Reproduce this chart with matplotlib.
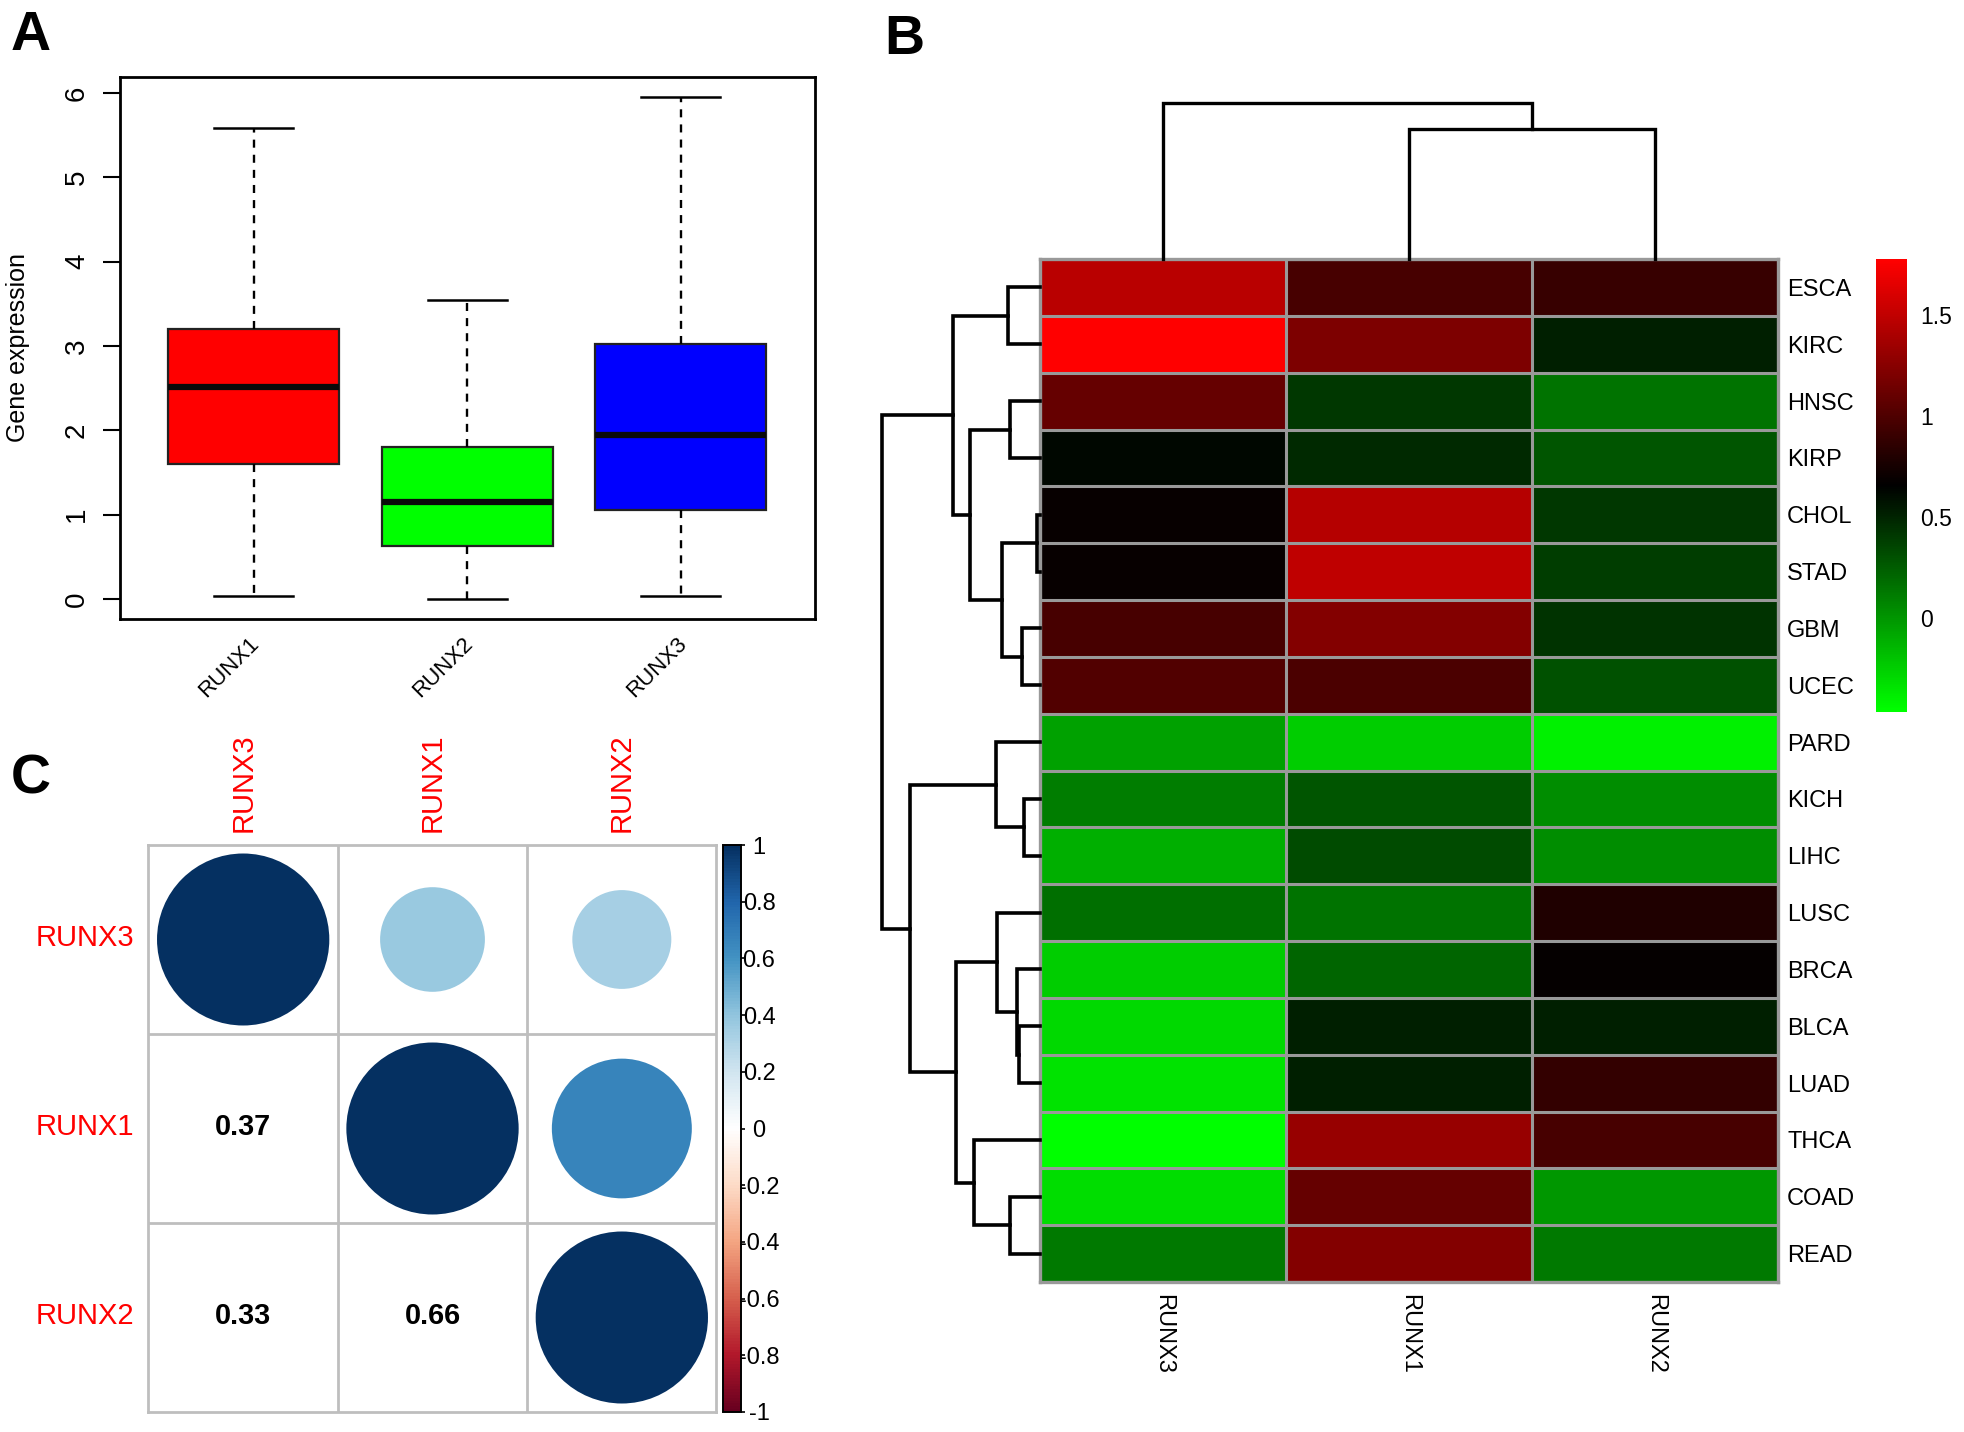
import numpy as np
import matplotlib
matplotlib.use("Agg")
import matplotlib.pyplot as plt
from matplotlib.cm import ScalarMappable
from matplotlib.colors import LinearSegmentedColormap, Normalize
from matplotlib.patches import Circle
from matplotlib.transforms import ScaledTranslation

plt.rcParams["font.family"] = ["Liberation Sans", "DejaVu Sans"]

W, H = 1965, 1432

# panel A
box_labels = ["RUNX1", "RUNX2", "RUNX3"]
box_colors = ["#FF0000", "#00FF00", "#0000FF"]
whisker_low = [0.04, 0.0, 0.04]
q1 = [1.60, 0.63, 1.06]
medians = [2.51, 1.15, 1.95]
q3 = [3.20, 1.80, 3.02]
whisker_high = [5.59, 3.54, 5.95]

# panel B
cancers = ["ESCA", "KIRC", "HNSC", "KIRP", "CHOL", "STAD", "GBM", "UCEC", "PARD",
           "KICH", "LIHC", "LUSC", "BRCA", "BLCA", "LUAD", "THCA", "COAD", "READ"]
heat_columns = ["RUNX3", "RUNX1", "RUNX2"]
heat_runx3 = [1.47, 1.777, 1.096, 0.625, 0.69, 0.69, 0.964, 1.008, -0.048,
              0.106, -0.114, 0.172, -0.246, -0.29, -0.334, -0.465, -0.312, 0.128]
heat_runx1 = [0.964, 1.206, 0.414, 0.48, 1.448, 1.492, 1.228, 0.986, -0.246,
              0.282, 0.326, 0.15, 0.216, 0.524, 0.524, 1.316, 1.096, 1.228]
heat_runx2 = [0.898, 0.524, 0.15, 0.282, 0.414, 0.392, 0.436, 0.304, -0.40,
              0.04, 0.04, 0.788, 0.678, 0.524, 0.876, 0.964, -0.004, 0.128]
heat_min, heat_max = -0.465, 1.777
heat_ticks = [0, 0.5, 1, 1.5]

# dendrograms, ids >= number of leaves point at an earlier merge
row_left = [4, 9, 6, 13, 12, 2, 16, 0, 18, 11, 8, 15, 23, 27, 25, 28, 32]
row_right = [5, 10, 7, 14, 21, 3, 17, 1, 20, 22, 19, 24, 26, 29, 30, 31, 33]
row_height = [3, 16, 18, 21, 23, 30, 30, 32, 38, 43, 44, 66, 70, 84, 87, 130, 158]
col_left = [1, 0]
col_right = [2, 3]
col_height = [130, 156]

# panel C
corr_names = ["RUNX3", "RUNX1", "RUNX2"]
corr_values = [[1.00, 0.37, 0.33],
               [0.37, 1.00, 0.66],
               [0.33, 0.66, 1.00]]
corr_ticks = [1, 0.8, 0.6, 0.4, 0.2, 0, -0.2, -0.4, -0.6, -0.8, -1]
corr_tick_labels = ["1", "0.8", "0.6", "0.4", "0.2", "0", "-0.2", "-0.4", "-0.6", "-0.8", "-1"]
rdbu = ["#67001F", "#B2182B", "#D6604D", "#F4A582", "#FDDBC7", "#FFFFFF",
        "#D1E5F0", "#92C5DE", "#4393C3", "#2166AC", "#053061"]


def add_axes_px(x0, y0, x1, y1):
    return fig.add_axes([x0 / W, 1 - y1 / H, (x1 - x0) / W, (y1 - y0) / H])


def draw_dendrogram(ax, n, left, right, height, horizontal):
    pos = {i: i + 0.5 for i in range(n)}
    hgt = {i: 0 for i in range(n)}
    for k in range(len(height)):
        a, b, h = left[k], right[k], height[k]
        hs = [hgt[a], h, h, hgt[b]]
        ps = [pos[a], pos[a], pos[b], pos[b]]
        if horizontal:
            ax.plot(hs, ps, color="black", lw=2.6, solid_joinstyle="miter", clip_on=False)
        else:
            ax.plot(ps, hs, color="black", lw=2.4, solid_joinstyle="miter", clip_on=False)
        pos[n + k] = (pos[a] + pos[b]) / 2
        hgt[n + k] = h


fig = plt.figure(figsize=(W / 100, H / 100), dpi=100)

fig.text(11 / W, 1 - 50.5 / H, "A", fontsize=40, fontweight="bold", va="baseline")
fig.text(884 / W, 1 - 54 / H, "B", fontsize=40, fontweight="bold", va="baseline")
fig.text(11 / W, 1 - 794 / H, "C", fontsize=40, fontweight="bold", va="baseline")

# A: boxplot
ax = add_axes_px(120.5, 77, 815, 619)
stats = []
for i in range(3):
    stats.append({"label": box_labels[i], "whislo": whisker_low[i], "q1": q1[i],
                  "med": medians[i], "q3": q3[i], "whishi": whisker_high[i], "fliers": []})
parts = ax.bxp(stats, positions=[1, 2, 3], widths=0.8, capwidths=0.37, patch_artist=True,
               showfliers=False,
               boxprops=dict(edgecolor="#222222", linewidth=1.6),
               medianprops=dict(color="#0A0A0A", linewidth=4.5, solid_capstyle="butt"),
               whiskerprops=dict(color="black", linewidth=1.7, linestyle=(0, (3.4, 3))),
               capprops=dict(color="black", linewidth=1.8))
for patch, c in zip(parts["boxes"], box_colors):
    patch.set_facecolor(c)
ax.set_xlim(0.376, 3.628)
ax.set_ylim(-0.238, 6.19)
ax.set_yticks(range(7))
ax.tick_params(axis="y", length=12, width=1.5, pad=10, labelsize=20, labelrotation=90)
for t in ax.get_yticklabels():
    t.set_va("center")
ax.set_xticks([1, 2, 3])
ax.set_xticklabels(box_labels, rotation=45, ha="right", va="top", rotation_mode="anchor", fontsize=16)
ax.tick_params(axis="x", length=0, pad=10)
for t in ax.get_xticklabels():
    t.set_transform(t.get_transform() + ScaledTranslation(-0.05, 0, fig.dpi_scale_trans))
ax.set_ylabel("Gene expression", fontsize=18)
ax.yaxis.set_label_coords((30 - 120.5) / 694.5, 0.5)
for s in ax.spines.values():
    s.set_linewidth(2)

# B: heatmap
heat = np.array([heat_runx3, heat_runx1, heat_runx2]).T
green_red = LinearSegmentedColormap.from_list("gbr", ["#00FF00", "#000000", "#FF0000"], N=256)
heat_norm = Normalize(heat_min, heat_max)
ax = add_axes_px(1040, 259, 1778, 1282)
ax.pcolormesh(heat, cmap=green_red, norm=heat_norm)
ax.set_xlim(0, 3)
ax.set_ylim(18, 0)
ax.yaxis.tick_right()
ax.set_yticks(np.arange(18) + 0.5)
ax.set_yticklabels(cancers, fontsize=17)
ax.set_xticks(np.arange(3) + 0.5)
ax.set_xticklabels(heat_columns, rotation=270, fontsize=17)
ax.set_xticks(range(1, 3), minor=True)
ax.set_yticks(range(1, 18), minor=True)
ax.grid(which="minor", color="#999999", lw=2.2)
ax.set_axisbelow(False)
ax.tick_params(which="minor", length=0)
ax.tick_params(axis="y", which="major", length=0, pad=6.5)
ax.tick_params(axis="x", which="major", length=0, pad=8.5)
for s in ax.spines.values():
    s.set_color("#999999")
    s.set_linewidth(2.4)

ax_row = add_axes_px(878, 259, 1040, 1282)
ax_row.set_xlim(162, 0)
ax_row.set_ylim(18, 0)
ax_row.axis("off")
draw_dendrogram(ax_row, 18, row_left, row_right, row_height, True)

ax_col = add_axes_px(1040, 99, 1778, 259)
ax_col.set_xlim(0, 3)
ax_col.set_ylim(0, 160)
ax_col.axis("off")
draw_dendrogram(ax_col, 3, col_left, col_right, col_height, False)

cax = add_axes_px(1876, 259, 1907, 712)
cb = fig.colorbar(ScalarMappable(norm=heat_norm, cmap=green_red), cax=cax)
cb.outline.set_visible(False)
cb.set_ticks(heat_ticks)
cb.set_ticklabels(["0", "0.5", "1", "1.5"])
cax.tick_params(length=0, pad=9.4, labelsize=16.5)

# C: correlation circles
rdbu_cmap = LinearSegmentedColormap.from_list("rdbu", rdbu, N=200)
corr_norm = Normalize(-1, 1)
ax = add_axes_px(148.5, 845, 716.5, 1412)
ax.set_xlim(0, 3)
ax.set_ylim(3, 0)
for r in range(3):
    for c in range(3):
        v = corr_values[r][c]
        if c >= r:
            ax.add_patch(Circle((c + 0.5, r + 0.5), 0.455 * np.sqrt(abs(v)),
                                color=rdbu_cmap(corr_norm(v)), lw=0, zorder=3))
        else:
            ax.text(c + 0.5, r + 0.49, "%.2f" % v, ha="center", va="center",
                    fontsize=20.8, fontweight="bold")
ax.set_xticks(np.arange(3) + 0.5)
ax.set_yticks(np.arange(3) + 0.5)
ax.set_xticks([1, 2], minor=True)
ax.set_yticks([1, 2], minor=True)
ax.xaxis.tick_top()
ax.set_xticklabels(corr_names, rotation=90, color="#FF0000", fontsize=21)
ax.set_yticklabels(corr_names, color="#FF0000", fontsize=21)
ax.tick_params(which="both", length=0)
ax.tick_params(axis="x", pad=9)
ax.tick_params(axis="y", pad=10)
for t in ax.get_yticklabels():
    t.set_transform(t.get_transform() + ScaledTranslation(0, 0.045, fig.dpi_scale_trans))
ax.grid(which="minor", color="#BEBEBE", lw=2)
ax.set_axisbelow(True)
for s in ax.spines.values():
    s.set_color("#BEBEBE")
    s.set_linewidth(2)

cax = add_axes_px(723, 845, 741, 1412)
cb = fig.colorbar(ScalarMappable(norm=corr_norm, cmap=rdbu_cmap), cax=cax)
cb.outline.set_linewidth(1.4)
cb.set_ticks(corr_ticks)
cb.set_ticklabels(corr_tick_labels)
cax.tick_params(length=3, width=1.2, pad=10, labelsize=17)
for t in cax.get_yticklabels():
    t.set_ha("center")

fig.savefig("out.png", dpi=100, facecolor="white")
